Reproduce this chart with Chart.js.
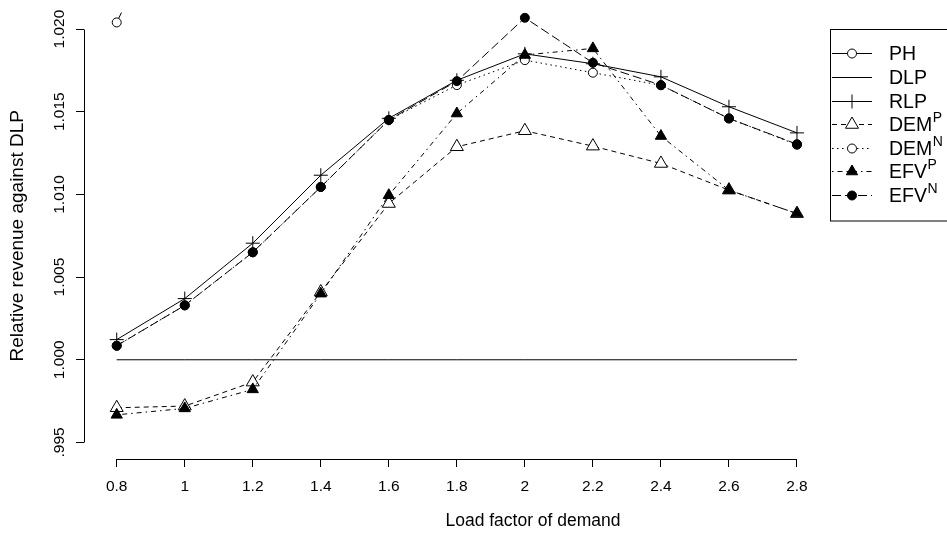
<!DOCTYPE html>
<html>
<head>
<meta charset="utf-8">
<script src="https://cdn.jsdelivr.net/npm/chart.js@4.4.1/dist/chart.umd.min.js"></script>
<style>
  html, body { margin: 0; padding: 0; background: #fff; overflow: hidden; }
  /* the original figure is cropped on the right: canvas wider than the window */
  #wrap { width: 947px; height: 537px; overflow: hidden; }
</style>
</head>
<body>
<div id="wrap"><canvas id="chart" width="982" height="537"></canvas></div>
<script>
// load factor of demand (x)
const loadFactors = [0.8, 1.0, 1.2, 1.4, 1.6, 1.8, 2.0, 2.2, 2.4, 2.6, 2.8];
const xTickLabels = ['0.8', '1', '1.2', '1.4', '1.6', '1.8', '2', '2.2', '2.4', '2.6', '2.8'];
const yTickValues = [0.995, 1.000, 1.005, 1.010, 1.015, 1.020];
const yTickLabels = ['.995', '1.000', '1.005', '1.010', '1.015', '1.020'];

// relative revenue against DLP
const ph   = [1.0204, 1.0290, null, null, null, null, null, null, null, null, null];
const dlp  = [1.0000, 1.0000, 1.0000, 1.0000, 1.0000, 1.0000, 1.0000, 1.0000, 1.0000, 1.0000, 1.0000];
const rlp  = [1.00122, 1.0037, 1.00705, 1.01116, 1.0146, 1.0169, 1.0185, 1.0179, 1.01711, 1.0153, 1.01372];
const demP = [0.9971, 0.9972, 0.99865, 1.0041, 1.00945, 1.01288, 1.01385, 1.01292, 1.01187, 1.01026, 1.00884];
const demN = [1.00085, 1.00329, 1.0065, 1.01045, 1.0145, 1.01661, 1.01812, 1.01736, 1.0166, 1.0146, 1.0130];
const efvP = [0.99667, 0.99706, 0.99821, 1.0040, 1.00995, 1.01489, 1.01843, 1.01883, 1.01353, 1.01026, 1.00884];
const efvN = [1.00085, 1.00329, 1.0065, 1.01045, 1.0145, 1.01685, 1.02068, 1.01796, 1.01661, 1.01459, 1.01304];

const legendMain = ['PH', 'DLP', 'RLP', 'DEM', 'DEM', 'EFV', 'EFV'];
const legendSup  = ['', '', '', 'P', 'N', 'P', 'N'];

const FONT = '"Liberation Sans", Arial, Helvetica, sans-serif';

function series(i, values, style) {
  return Object.assign({
    label: legendMain[i] + legendSup[i],
    data: values.map((v, k) => ({ x: loadFactors[k], y: v })),
    borderColor: '#000',
    borderWidth: 1,
    pointBorderColor: '#000',
    pointBorderWidth: 1,
    pointBackgroundColor: '#fff',
    pointStyle: 'circle',
    pointRadius: 4.5,
    spanGaps: false,
    tension: 0,
    // later series drawn on top, like R
    order: 10 - i
  }, style);
}

const datasets = [
  series(0, ph,   { borderDash: [] }),
  series(1, dlp,  { borderDash: [], pointRadius: 0 }),
  series(2, rlp,  { borderDash: [], pointStyle: 'cross', pointRadius: 7 }),
  series(3, demP, { borderDash: [5, 4], pointStyle: 'triangle', pointRadius: 7.5 }),
  series(4, demN, { borderDash: [1.5, 3.5] }),
  series(5, efvP, { borderDash: [1.5, 4, 5, 4], pointStyle: 'triangle', pointRadius: 6.5, pointBackgroundColor: '#000' }),
  series(6, efvN, { borderDash: [9, 4], pointBackgroundColor: '#000' })
];

// R style detached axis lines (first to last tick only)
const axisLines = {
  id: 'axisLines',
  afterDraw(chart) {
    const { ctx, scales: { x, y }, chartArea } = chart;
    const al = v => Math.round(v - 0.5) + 0.5;
    ctx.save();
    ctx.strokeStyle = '#000';
    ctx.lineWidth = 1;
    ctx.setLineDash([]);
    ctx.beginPath();
    ctx.moveTo(al(x.getPixelForValue(loadFactors[0])), al(chartArea.bottom));
    ctx.lineTo(al(x.getPixelForValue(loadFactors[loadFactors.length - 1])), al(chartArea.bottom));
    ctx.moveTo(al(chartArea.left), al(y.getPixelForValue(yTickValues[0])));
    ctx.lineTo(al(chartArea.left), al(y.getPixelForValue(yTickValues[yTickValues.length - 1])));
    ctx.stroke();
    ctx.restore();
  }
};

// boxed legend with superscripts
const boxLegend = {
  id: 'boxLegend',
  afterDraw(chart) {
    const ctx = chart.ctx;
    const left = 830.5, top = 29.5, rowY0 = 53.3, rowStep = 23.6;
    ctx.save();
    ctx.strokeStyle = '#000';
    ctx.lineWidth = 1;
    ctx.strokeRect(left, top, 200, 191.5);
    chart.data.datasets.forEach((d, i) => {
      const yy = Math.round(rowY0 + i * rowStep) + 0.5;
      ctx.setLineDash(d.borderDash);
      ctx.beginPath();
      ctx.moveTo(832, yy);
      ctx.lineTo(872, yy);
      ctx.stroke();
      ctx.setLineDash([]);
      if (d.pointRadius > 0) {
        ctx.fillStyle = d.pointBackgroundColor;
        ctx.strokeStyle = '#000';
        Chart.helpers.drawPoint(ctx, {
          pointStyle: d.pointStyle, radius: d.pointRadius,
          borderWidth: 1, rotation: 0
        }, 852, yy);
      }
      ctx.fillStyle = '#000';
      ctx.textBaseline = 'middle';
      ctx.textAlign = 'left';
      ctx.font = '19.5px ' + FONT;
      ctx.fillText(legendMain[i], 889, yy + 1);
      if (legendSup[i]) {
        const w = ctx.measureText(legendMain[i]).width;
        ctx.font = '14px ' + FONT;
        ctx.fillText(legendSup[i], 889 + w + 0.5, yy - 6.5);
      }
    });
    ctx.restore();
  }
};

new Chart(document.getElementById('chart'), {
  type: 'line',
  data: { datasets },
  options: {
    responsive: false,
    animation: false,
    devicePixelRatio: 1,
    events: [],
    layout: { autoPadding: false, padding: { left: 0, top: 12.5, right: 0, bottom: 0 } },
    plugins: { legend: { display: false }, tooltip: { enabled: false } },
    scales: {
      x: {
        type: 'linear',
        min: 0.7038,
        max: 3.344,
        afterBuildTicks: s => { s.ticks = loadFactors.map(v => ({ value: v })); },
        afterFit: s => { s.height = 78; },
        border: { display: false },
        grid: { drawOnChartArea: false, drawTicks: true, tickLength: 8, color: '#000', lineWidth: 1 },
        ticks: {
          autoSkip: false,
          maxRotation: 0,
          padding: 10,
          color: '#000',
          font: { family: FONT, size: 15.5 },
          callback: (v, i) => xTickLabels[i]
        },
        title: {
          display: true,
          text: 'Load factor of demand',
          color: '#000',
          font: { family: FONT, size: 17.5 },
          padding: { top: 0, bottom: 5 }
        }
      },
      y: {
        type: 'linear',
        min: 0.994,
        max: 1.021,
        afterBuildTicks: s => { s.ticks = yTickValues.map(v => ({ value: v })); },
        afterFit: s => { s.width = 84; },
        border: { display: false },
        grid: { drawOnChartArea: false, drawTicks: true, tickLength: 8, color: '#000', lineWidth: 1 },
        ticks: {
          autoSkip: false,
          minRotation: 90,
          maxRotation: 90,
          crossAlign: 'center',
          padding: -3,
          color: '#000',
          font: { family: FONT, size: 15.5 },
          callback: (v, i) => yTickLabels[i]
        },
        title: {
          display: true,
          text: 'Relative revenue against DLP',
          color: '#000',
          font: { family: FONT, size: 19 },
          padding: { top: 6, bottom: 0 }
        }
      }
    }
  },
  plugins: [axisLines, boxLegend]
});
</script>
</body>
</html>
